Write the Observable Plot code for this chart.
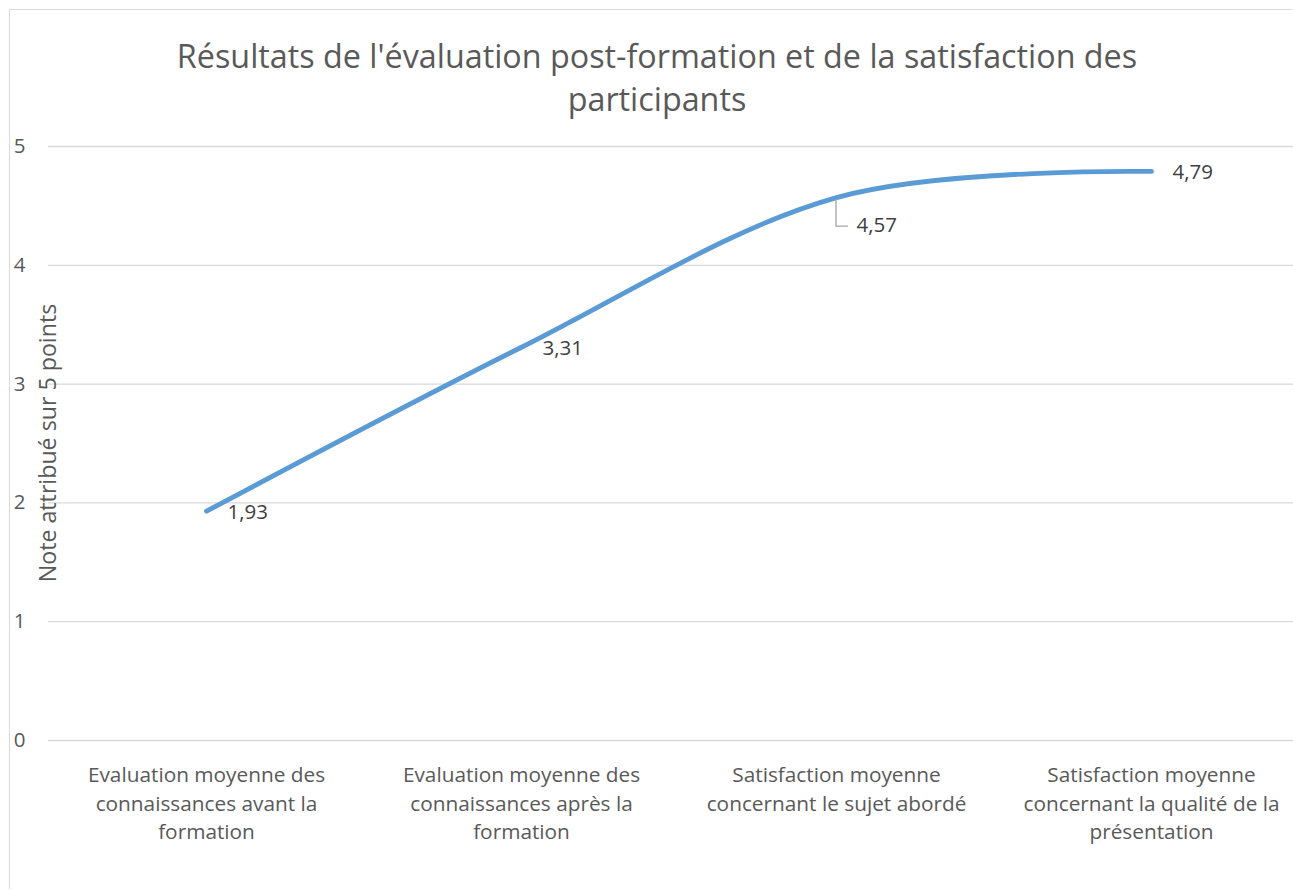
<!DOCTYPE html>
<html>
<head>
<meta charset="utf-8">
<script src="https://cdn.jsdelivr.net/npm/d3@7"></script>
<script src="https://cdn.jsdelivr.net/npm/@observablehq/plot@0.6"></script>
<style>
  html, body { margin: 0; padding: 0; background: #fff; overflow: hidden; width: 1293px; height: 890px; }
  #wrap { position: relative; width: 1293px; height: 890px; overflow: hidden; }
  #frame { position: absolute; left: 9px; top: 9px; width: 1282px; height: 879px; border-left: 1.5px solid #d9d9d9; border-top: 1.5px solid #d9d9d9; }
  #title { position: absolute; left: 20px; top: 34px; width: 1274px; text-align: center; font-family: "Open Sans", Lato, sans-serif; font-weight: 400; font-size: 32.3px; line-height: 43px; color: #595959; }
  #chart { position: absolute; left: 0; top: 0; width: 1293px; height: 890px; overflow: hidden; }
</style>
</head>
<body>
<div id="wrap">
<div id="frame"></div>
<div id="chart"></div>
<div id="title">Résultats de l'évaluation post-formation et de la satisfaction des<br>participants</div>
</div>
<script>
const categories = [
  "Evaluation moyenne des connaissances avant la formation",
  "Evaluation moyenne des connaissances après la formation",
  "Satisfaction moyenne concernant le sujet abordé",
  "Satisfaction moyenne concernant la qualité de la présentation"
];
const tickLabels = [
  "Evaluation moyenne des\nconnaissances avant la\nformation",
  "Evaluation moyenne des\nconnaissances après la\nformation",
  "Satisfaction moyenne\nconcernant le sujet abordé",
  "Satisfaction moyenne\nconcernant la qualité de la\nprésentation"
];
const values = [1.93, 3.31, 4.57, 4.79];
const valueLabels = ["1,93", "3,31", "4,57", "4,79"];
const yTicks = [0, 1, 2, 3, 4, 5];
const yLabel = "Note attribué sur 5 points";

const data = categories.map((c, i) => ({cat: c, v: values[i], lab: valueLabels[i], i}));
const leaderIdx = 2;

const leader = (index, scales) => {
  const d = data[leaderIdx];
  const px = scales.x(d.cat), py = scales.y(d.v);
  const p = document.createElementNS("http://www.w3.org/2000/svg", "path");
  p.setAttribute("d", `M${px},${py + 2}V${py + 29}H${px + 12}`);
  p.setAttribute("fill", "none");
  p.setAttribute("stroke", "#a6a6a6");
  p.setAttribute("stroke-width", "1.3");
  return p;
};

const FONT = "'Open Sans', Lato, sans-serif";
const chart = Plot.plot({
  width: 1293,
  height: 890,
  marginTop: 146,
  marginBottom: 150,
  marginLeft: 48,
  marginRight: -15,
  style: {fontFamily: FONT, color: "#595959", background: "transparent", overflow: "hidden"},
  x: {type: "point", domain: categories, padding: 0.5},
  y: {domain: [0, 5]},
  marks: [
    Plot.gridY(yTicks, {stroke: "#d9d9d9", strokeOpacity: 1, strokeWidth: 1.3}),
    Plot.axisY(yTicks, {tickSize: 0, tickPadding: 23, fontSize: 20.5, fill: "#595959", label: null, tickFormat: d => String(d)}),
    Plot.axisX({tickSize: 0, tickPadding: 21, fontSize: 20.8, lineHeight: 1.38, fill: "#595959", tickFormat: d => tickLabels[categories.indexOf(d)], label: null}),
    Plot.line(data, {x: "cat", y: "v", curve: "cardinal", tension: 0, stroke: "#5b9bd5", strokeWidth: 4.8, strokeLinecap: "round"}),
    Plot.text(data.filter(d => d.i !== leaderIdx), {x: "cat", y: "v", text: "lab", textAnchor: "start", dx: 21, dy: 1, fontSize: 20.5, fill: "#404040"}),
    Plot.text(data.filter(d => d.i === leaderIdx), {x: "cat", y: "v", text: "lab", textAnchor: "start", dx: 20, dy: 28, fontSize: 20.5, fill: "#404040"}),
    leader
  ]
});
document.getElementById("chart").appendChild(chart);

const svg = d3.select(chart);
svg.append("text")
  .attr("transform", `translate(47,${(146 + 740) / 2}) rotate(-90)`)
  .attr("text-anchor", "middle")
  .attr("dominant-baseline", "central")
  .attr("font-family", FONT)
  .attr("font-size", 23.2)
  .attr("fill", "#595959")
  .text(yLabel);
</script>
</body>
</html>
